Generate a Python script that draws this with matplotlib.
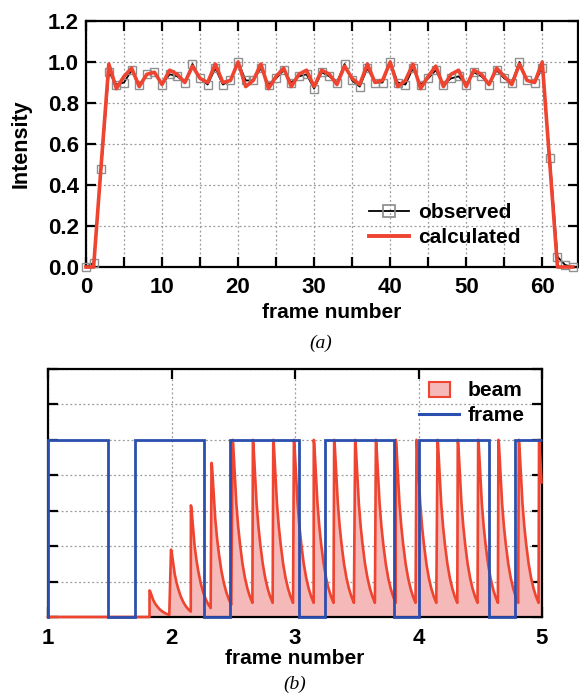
import matplotlib
matplotlib.use("Agg")
import matplotlib.pyplot as plt
from matplotlib.patches import Patch, Rectangle
from matplotlib.lines import Line2D
from matplotlib.legend_handler import HandlerPatch
from matplotlib.ticker import MultipleLocator, FormatStrFormatter

plt.rcParams['font.family'] = ['Liberation Sans', 'DejaVu Sans']
plt.rcParams['font.weight'] = 'bold'

# ---------------- data: panel (a) ----------------
frames = list(range(0, 65))
observed = [0.0, 0.02, 0.48, 0.95, 0.89, 0.90, 0.96, 0.89, 0.94, 0.95,
            0.89, 0.94, 0.93, 0.90, 0.99, 0.92, 0.89, 0.97, 0.89, 0.91,
            1.00, 0.91, 0.91, 0.97, 0.89, 0.92, 0.96, 0.90, 0.93, 0.94,
            0.87, 0.95, 0.93, 0.90, 0.99, 0.91, 0.88, 0.97, 0.90, 0.90,
            1.00, 0.90, 0.89, 0.97, 0.89, 0.92, 0.96, 0.89, 0.92, 0.93,
            0.89, 0.95, 0.93, 0.89, 0.96, 0.92, 0.90, 1.00, 0.91, 0.90,
            0.97, 0.53, 0.05, 0.01, 0.0]
calculated = [0.0, 0.0, 0.50, 0.99, 0.87, 0.93, 0.97, 0.88, 0.94, 0.95,
              0.89, 0.96, 0.94, 0.90, 0.98, 0.92, 0.90, 0.99, 0.90, 0.91,
              1.00, 0.88, 0.91, 0.99, 0.87, 0.93, 0.97, 0.88, 0.94, 0.96,
              0.88, 0.96, 0.94, 0.89, 0.98, 0.92, 0.89, 0.99, 0.90, 0.91,
              1.00, 0.88, 0.91, 0.99, 0.87, 0.93, 0.98, 0.88, 0.94, 0.96,
              0.88, 0.96, 0.94, 0.89, 0.97, 0.93, 0.89, 0.99, 0.91, 0.90,
              1.00, 0.50, 0.0, 0.0, 0.0]

# ---------------- data: panel (b) ----------------
pulse_starts = [1.822, 1.996, 2.157, 2.324, 2.495, 2.659, 2.824, 2.991, 3.152, 3.317,
                3.487, 3.655, 3.816, 3.984, 4.154, 4.318, 4.483, 4.647, 4.812, 4.976]
pulse_heights = [0.15, 0.38, 0.63, 0.87, 1.0, 1.0, 1.0, 1.0, 1.0, 1.0,
                 1.0, 1.0, 1.0, 1.0, 1.0, 1.0, 1.0, 1.0, 1.0, 1.0]
# normalised decay shape of one pulse (offset in frame units, relative value)
profile_offsets = [0.0, 0.004, 0.01, 0.02, 0.03, 0.045, 0.06, 0.08, 0.10, 0.12, 0.14, 0.16]
profile_values = [1.0, 0.98, 0.90, 0.76, 0.64, 0.51, 0.41, 0.30, 0.22, 0.16, 0.115, 0.08]

frame_edges = [1.0, 1.487, 1.703, 2.262, 2.471, 3.033, 3.242, 3.804, 4.004, 4.567, 4.782, 5.0]
frame_levels = [1, 0, 1, 0, 1, 0, 1, 0, 1, 0, 1]

RED = '#ee4430'
BLUE = '#2b4fae'
PINK = '#f6b9b9'
GRID = dict(ls=(0, (1.5, 2)), color='#9a9a9a', lw=0.9)
W, H = 579, 695


class SmallPatch(HandlerPatch):
    def create_artists(self, legend, orig_handle, xdescent, ydescent, width, height,
                       fontsize, trans):
        p = Rectangle((-xdescent + 0.24 * width, -ydescent - 0.05 * height),
                      0.54 * width, 1.0 * height,
                      facecolor=orig_handle.get_facecolor(),
                      edgecolor=orig_handle.get_edgecolor(),
                      lw=orig_handle.get_linewidth(), transform=trans)
        return [p]


fig = plt.figure(figsize=(W / 100, H / 100), dpi=100)

# ---------------- panel (a) ----------------
ax1 = fig.add_axes([86 / W, 1 - 267 / H, (578 - 86) / W, (267 - 21) / H])
ax1.plot(frames, observed, color='black', lw=1.3, marker='s', ms=5.4,
         mfc='none', mec='#909090', mew=1.0, clip_on=False, zorder=3)
ax1.plot(frames, calculated, color=RED, lw=2.6, clip_on=False, zorder=4)
ax1.set_xlim(0, 64.7)
ax1.set_ylim(0, 1.2)
ax1.xaxis.set_major_locator(MultipleLocator(10))
ax1.xaxis.set_minor_locator(MultipleLocator(5))
ax1.yaxis.set_major_locator(MultipleLocator(0.2))
ax1.yaxis.set_major_formatter(FormatStrFormatter('%.1f'))
ax1.grid(True, which='both', axis='x', **GRID)
ax1.grid(True, which='major', axis='y', **GRID)
ax1.tick_params(which='both', direction='in', top=True, right=True, length=7, width=1.6,
                labelsize=16)
ax1.tick_params(axis='x', pad=7)
ax1.tick_params(axis='y', pad=5)
for s in ax1.spines.values():
    s.set_linewidth(1.6)
ax1.set_xlabel('frame number', fontsize=15, fontweight='bold', labelpad=4)
ax1.set_ylabel('Intensity', fontsize=15.5, fontweight='bold', labelpad=12)
h_obs = Line2D([], [], color='black', lw=1.3, marker='s', ms=9, mfc='none', mec='#8a8a8a', mew=1.2)
h_cal = Line2D([], [], color=RED, lw=2.8)
ax1.legend([h_obs, h_cal], ['observed', 'calculated'], loc='upper left',
           bbox_to_anchor=(369 / W, 1 - 203 / H), bbox_transform=fig.transFigure,
           frameon=False, handlelength=1.9, handletextpad=0.45, labelspacing=0.3,
           borderpad=0, borderaxespad=0, prop={'weight': 'bold', 'size': 15})
fig.text(321 / W, 1 - 343 / H, '(a)', ha='center', va='center',
         fontsize=14, family=['Liberation Serif', 'DejaVu Serif'], style='italic', weight='normal')

# ---------------- panel (b) ----------------
ax2 = fig.add_axes([48 / W, 1 - 617 / H, (542 - 48) / W, (617 - 369) / H])
bx = [1.0, pulse_starts[0]]
by = [0.0, 0.0]
for k, (t0, h) in enumerate(zip(pulse_starts, pulse_heights)):
    gap = pulse_starts[k + 1] - t0 if k + 1 < len(pulse_starts) else 10.0
    for off, val in zip(profile_offsets, profile_values):
        if off < gap and t0 + off <= 5.0:
            bx.append(t0 + off)
            by.append(h * val)
ax2.fill_between(bx, 0, by, color=PINK, lw=0, zorder=2)
ax2.plot(bx, by, color=RED, lw=1.9, zorder=3, clip_on=False)
ax2.stairs(frame_levels, frame_edges, baseline=None, color=BLUE, lw=2.0, zorder=4, clip_on=False)
ax2.plot([frame_edges[0], frame_edges[0]], [0, frame_levels[0]], color=BLUE, lw=2.0,
         zorder=4, clip_on=False)
ax2.set_xlim(1, 5)
ax2.set_ylim(0, 1.4)
ax2.xaxis.set_major_locator(MultipleLocator(1))
ax2.yaxis.set_major_locator(MultipleLocator(0.2))
ax2.grid(True, **GRID)
ax2.tick_params(direction='in', top=True, right=True, length=7, width=1.6,
                labelsize=16, labelleft=False, pad=8)
for s in ax2.spines.values():
    s.set_linewidth(1.6)
ax2.set_xlabel('frame number', fontsize=15, fontweight='bold', labelpad=0)
h_beam = Patch(facecolor=PINK, edgecolor=RED, lw=1.5)
h_frame = Line2D([], [], color=BLUE, lw=2.2)
ax2.legend([h_beam, h_frame], ['beam', 'frame'], loc='upper left',
           bbox_to_anchor=(419 / W, 1 - 381 / H), bbox_transform=fig.transFigure,
           frameon=False, handlelength=1.9, handletextpad=0.45, labelspacing=0.3,
           borderpad=0, borderaxespad=0, handler_map={Patch: SmallPatch()},
           prop={'weight': 'bold', 'size': 15})
fig.text(295 / W, 1 - 684 / H, '(b)', ha='center', va='center',
         fontsize=14, family=['Liberation Serif', 'DejaVu Serif'], style='italic', weight='normal')

fig.savefig('out.png', dpi=100)
